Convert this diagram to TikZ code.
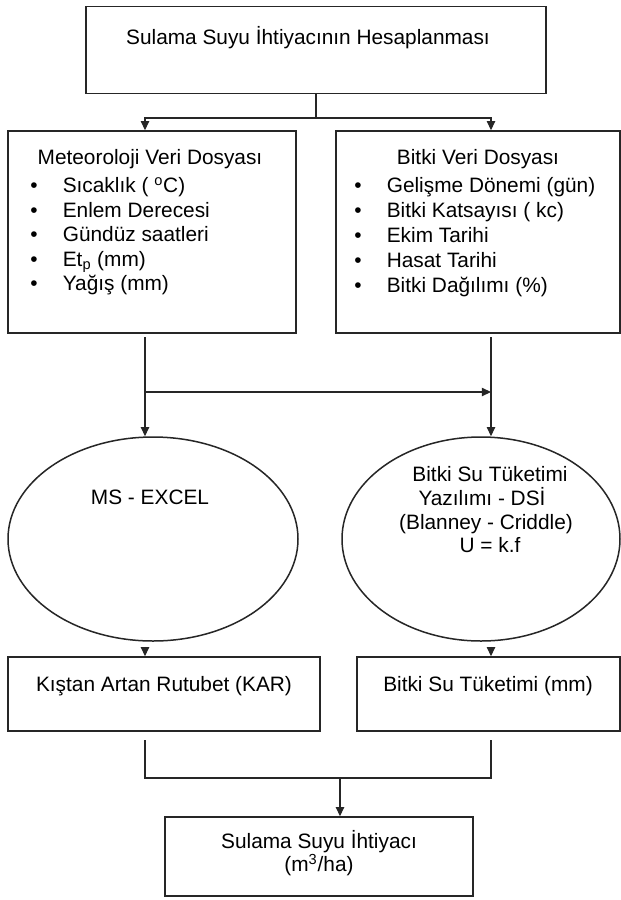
\documentclass[tikz,border=0pt]{standalone}
\usepackage{fontspec}
\setmainfont{Liberation Sans}
\usetikzlibrary{shapes.geometric,arrows.meta}
\newcommand{\blt}[1]{\makebox[19.5pt][l]{•}#1}
\begin{document}
\begin{tikzpicture}[x=0.6pt,y=-0.6pt,
  box/.style={draw=black!85, line width=0.9pt, rectangle, inner sep=0pt},
  oval/.style={draw=black!85, line width=0.9pt, ellipse, inner sep=0pt},
  txt/.style={inner sep=0pt, font=\fontsize{12.5}{15}\selectfont, text height=9pt, text depth=0pt},
  conn/.style={draw=black!85, line width=0.7pt},
  arr/.style={conn, -{Triangle[length=5.5pt,width=5pt]}}]
\useasboundingbox (0,0) rectangle (621,900);
\fill[white] (0,0) rectangle (621,900);

% column coordinates
\coordinate (cl) at (145,0);
\coordinate (cr) at (491,0);
\coordinate (cm) at (340,0);

% boxes
\node[box, minimum width=276pt, minimum height=52.2pt] (top) at (316,50) {};
\node[box, minimum width=172.8pt, minimum height=121.2pt] (ld) at (152,232) {};
\node[box, minimum width=170.4pt, minimum height=121.2pt] (rd) at (478,232) {};
\node[oval, minimum width=174pt, minimum height=122.4pt] (le) at (153,539) {};
\node[oval, minimum width=166.8pt, minimum height=122.4pt] (re) at (481,539) {};
\node[box, minimum width=187.2pt, minimum height=44.4pt] (ll) at (164,694) {};
\node[box, minimum width=157.8pt, minimum height=44.4pt] (lr) at (488.5,694) {};
\node[box, minimum width=184.8pt, minimum height=47.4pt] (bt) at (319,856.5) {};

% texts
\node[txt] (ttop) at (308,37) {Sulama Suyu İhtiyacının Hesaplanması};
\node[txt] (tld) at (150,157) {Meteoroloji Veri Dosyası};
\node[txt] (trd) at (478,157) {Bitki Veri Dosyası};
\node[txt, anchor=west] (l1) at (30,185) {\blt{Sıcaklık ( \textsuperscript{o}C)}};
\node[txt, anchor=west] (l2) at (30,209.5) {\blt{Enlem Derecesi}};
\node[txt, anchor=west] (l3) at (30,234) {\blt{Gündüz saatleri}};
\node[txt, anchor=west] (l4) at (30,258.5) {\blt{Et\textsubscript{p} (mm)}};
\node[txt, anchor=west] (l5) at (30,283) {\blt{Yağış (mm)}};
\node[txt, anchor=west] (r1) at (354,185) {\blt{Gelişme Dönemi (gün)}};
\node[txt, anchor=west] (r2) at (354,210) {\blt{Bitki Katsayısı ( kc)}};
\node[txt, anchor=west] (r3) at (354,235) {\blt{Ekim Tarihi}};
\node[txt, anchor=west] (r4) at (354,260) {\blt{Hasat Tarihi}};
\node[txt, anchor=west] (r5) at (354,285) {\blt{Bitki Dağılımı (\%)}};
\node[txt] (tle) at (150,497) {MS - EXCEL};
\node[txt] (tre1) at (490,474) {Bitki Su Tüketimi};
\node[txt] (tre2) at (482,498) {Yazılımı - DSİ};
\node[txt] (tre3) at (486,522) {(Blanney - Criddle)};
\node[txt] (tre4) at (490,545) {U = k.f};
\node[txt] (tll) at (164,684) {Kıştan Artan Rutubet (KAR)};
\node[txt] (tlr) at (488,684) {Bitki Su Tüketimi (mm)};
\node[txt] (tbt1) at (319,841) {Sulama Suyu İhtiyacı};
\node[txt] (tbt2) at (319,864) {(m\textsuperscript{3}/ha)};

% junction points
\coordinate (j1) at (top.south |- 0,118);
\coordinate (m1) at (145,392);
\coordinate (m2) at (491,392);
\coordinate (m3) at (145,778);
\coordinate (m4) at (491,778);

% connectors
\draw[conn] (top.south) -- (j1);
\draw[arr] (j1) -| (cl |- ld.north);
\draw[arr] (j1) -| (cr |- rd.north);
\draw[arr, shorten <=2pt] (cl |- ld.south) -- (cl |- le.north);
\draw[arr, shorten <=2pt] (cr |- rd.south) -- (cr |- re.north);
\draw[arr] (m1) -- (m2);
\draw[arr, shorten <=3pt] (cl |- le.south) -- (cl |- ll.north);
\draw[arr, shorten <=3pt] (cr |- re.south) -- (cr |- lr.north);
\draw[conn, shorten <=5pt, shorten >=5pt] (cl |- ll.south) -- (m3) -- (m4) -- (cr |- lr.south);
\draw[arr] (cm |- m3) -- (cm |- bt.north);
\end{tikzpicture}
\end{document}
